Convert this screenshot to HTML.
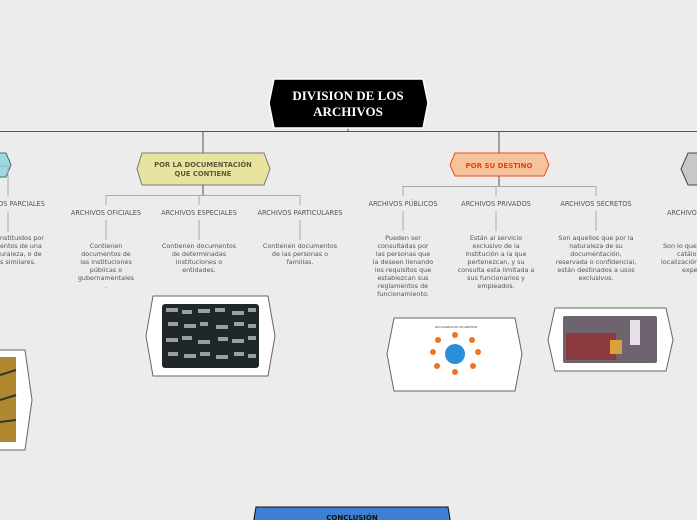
<!DOCTYPE html>
<html><head><meta charset="utf-8"><style>
html,body{margin:0;padding:0;background:#ececec;width:697px;height:520px;overflow:hidden}
svg{display:block}
text{font-family:"DejaVu Sans","Liberation Sans",sans-serif}
.lb{font-size:6.6px;fill:#555}
.tx{font-size:6.4px;fill:#555}
</style></head><body>
<svg width="697" height="520" viewBox="0 0 697 520" xmlns="http://www.w3.org/2000/svg">
<rect width="697" height="520" fill="#ececec"/>
<!-- main lines -->
<line x1="0" y1="131.5" x2="697" y2="131.5" stroke="#555" stroke-width="1"/>
<line x1="348" y1="128" x2="348" y2="132" stroke="#555"/>
<line x1="203" y1="131" x2="203" y2="153" stroke="#555"/>
<line x1="499" y1="131" x2="499" y2="153" stroke="#555"/>
<!-- root -->
<polygon points="274,79 423,79 428,103 423,128 274,128 269,103" fill="#000" stroke="#fff" stroke-width="1.5"/>
<text x="348" y="100" text-anchor="middle" font-family="Liberation Serif,serif" font-weight="bold" font-size="13" fill="#fff" style="font-family:'Liberation Serif',serif">DIVISION DE LOS</text>
<text x="348" y="116" text-anchor="middle" font-weight="bold" font-size="13" fill="#fff" style="font-family:'Liberation Serif',serif">ARCHIVOS</text>

<!-- left blue -->
<polygon points="-10,153 6,153 11,165 6,177 -10,177" fill="#9ed8e3" stroke="#4a6a78"/>
<polyline points="0,166 8,166 8,196" fill="none" stroke="#aaa"/>
<text x="-2" y="206" class="lb">OS PARCIALES</text>
<line x1="8" y1="212" x2="8" y2="232" stroke="#aaa"/>
<text class="tx" x="0" y="240">nstituidos por</text>
<text class="tx" x="0" y="248">entos de una</text>
<text class="tx" x="0" y="256">uraleza, o de</text>
<text class="tx" x="0" y="264">s similares.</text>

<!-- yellow branch -->
<polygon points="142,153 264,153 270,169 264,185 142,185 137,169" fill="#e8e4a0" stroke="#777"/>
<text x="203" y="167" text-anchor="middle" font-size="6.8" font-weight="bold" fill="#5a5a3a">POR LA DOCUMENTACIÓN</text>
<text x="203" y="176" text-anchor="middle" font-size="6.8" font-weight="bold" fill="#5a5a3a">QUE CONTIENE</text>
<line x1="203" y1="185" x2="203" y2="195" stroke="#555"/>
<polyline points="106,205 106,195.5 300,195.5 300,205" fill="none" stroke="#aaa"/>
<line x1="199" y1="195" x2="199" y2="205" stroke="#aaa"/>
<text x="106" y="215" text-anchor="middle" class="lb">ARCHIVOS OFICIALES</text>
<text x="199" y="215" text-anchor="middle" class="lb">ARCHIVOS ESPECIALES</text>
<text x="300" y="215" text-anchor="middle" class="lb">ARCHIVOS PARTICULARES</text>
<line x1="106" y1="220" x2="106" y2="240" stroke="#aaa"/>
<line x1="199" y1="220" x2="199" y2="240" stroke="#aaa"/>
<line x1="300" y1="220" x2="300" y2="240" stroke="#aaa"/>
<g class="tx" text-anchor="middle">
<text class="tx" x="106" y="248">Contienen</text>
<text class="tx" x="106" y="256">documentos de</text>
<text class="tx" x="106" y="264">las instituciones</text>
<text class="tx" x="106" y="272">públicas o</text>
<text class="tx" x="106" y="280">gubernamentales</text>
<text class="tx" x="106" y="288">.</text>
<text class="tx" x="199" y="248">Contienen documentos</text>
<text class="tx" x="199" y="256">de determinadas</text>
<text class="tx" x="199" y="264">instituciones o</text>
<text class="tx" x="199" y="272">entidades.</text>
<text class="tx" x="300" y="248">Contienen documentos</text>
<text class="tx" x="300" y="256">de las personas o</text>
<text class="tx" x="300" y="264">familias.</text>
</g>

<!-- orange branch -->
<polygon points="455,153 544,153 549,165 544,176 455,176 450,165" fill="#f7c39c" stroke="#f04e1e"/>
<text x="499" y="168" text-anchor="middle" font-size="7" font-weight="bold" fill="#e8400c">POR SU DESTINO</text>
<line x1="499" y1="176" x2="499" y2="186" stroke="#555"/>
<polyline points="403,196 403,186.5 596,186.5 596,196" fill="none" stroke="#aaa"/>
<line x1="496" y1="186" x2="496" y2="196" stroke="#aaa"/>
<text x="403" y="206" text-anchor="middle" class="lb">ARCHIVOS PÚBLICOS</text>
<text x="496" y="206" text-anchor="middle" class="lb">ARCHIVOS PRIVADOS</text>
<text x="596" y="206" text-anchor="middle" class="lb">ARCHIVOS SECRETOS</text>
<line x1="403" y1="211" x2="403" y2="231" stroke="#aaa"/>
<line x1="496" y1="211" x2="496" y2="231" stroke="#aaa"/>
<line x1="596" y1="211" x2="596" y2="231" stroke="#aaa"/>
<g text-anchor="middle">
<text class="tx" x="403" y="240">Pueden ser</text>
<text class="tx" x="403" y="248">consultadas por</text>
<text class="tx" x="403" y="256">las personas que</text>
<text class="tx" x="403" y="264">la deseen llenando</text>
<text class="tx" x="403" y="272">los requisitos que</text>
<text class="tx" x="403" y="280">establezcan sus</text>
<text class="tx" x="403" y="288">reglamentos de</text>
<text class="tx" x="403" y="296">funcionamiento.</text>
<text class="tx" x="496" y="240">Están al servicio</text>
<text class="tx" x="496" y="248">exclusivo de la</text>
<text class="tx" x="496" y="256">institución a la que</text>
<text class="tx" x="496" y="264">pertenezcan, y su</text>
<text class="tx" x="496" y="272">consulta esta limitada a</text>
<text class="tx" x="496" y="280">sus funcionarios y</text>
<text class="tx" x="496" y="288">empleados.</text>
<text class="tx" x="596" y="240">Son aquellos que por la</text>
<text class="tx" x="596" y="248">naturaleza de su</text>
<text class="tx" x="596" y="256">documentación,</text>
<text class="tx" x="596" y="264">reservada o confidencial,</text>
<text class="tx" x="596" y="272">están destinados a usos</text>
<text class="tx" x="596" y="280">exclusivos.</text>
</g>

<!-- right gray -->
<polygon points="688,153 710,153 710,185 688,185 681,169" fill="#c8c8c8" stroke="#444"/>
<text x="667" y="215" class="lb">ARCHIVO</text>
<text class="tx" x="663" y="248">Son lo que</text>
<text class="tx" x="677" y="256">catálo</text>
<text class="tx" x="661" y="264">localización</text>
<text class="tx" x="682" y="272">expe</text>

<!-- image boxes -->
<polygon points="153,296 268,296 275,336 268,376 153,376 146,336" fill="#fff" stroke="#666"/>
<rect x="162" y="304" width="97" height="64" rx="3" fill="#1f272b"/>
<g fill="#9aa0a2">
<rect x="166" y="308" width="12" height="4"/><rect x="182" y="310" width="10" height="4"/><rect x="198" y="309" width="12" height="4"/><rect x="215" y="308" width="10" height="4"/><rect x="232" y="311" width="12" height="4"/><rect x="248" y="308" width="8" height="4"/>
<rect x="168" y="322" width="10" height="4"/><rect x="184" y="324" width="12" height="4"/><rect x="200" y="322" width="8" height="4"/><rect x="216" y="325" width="12" height="4"/><rect x="234" y="322" width="10" height="4"/><rect x="248" y="324" width="8" height="4"/>
<rect x="166" y="338" width="12" height="4"/><rect x="182" y="336" width="10" height="4"/><rect x="198" y="340" width="12" height="4"/><rect x="218" y="337" width="10" height="4"/><rect x="232" y="339" width="12" height="4"/><rect x="248" y="336" width="8" height="4"/>
<rect x="168" y="352" width="10" height="4"/><rect x="184" y="354" width="12" height="4"/><rect x="200" y="352" width="10" height="4"/><rect x="216" y="355" width="12" height="4"/><rect x="234" y="352" width="10" height="4"/><rect x="248" y="354" width="8" height="4"/>
</g>

<polygon points="394,318 515,318 522,354 515,391 394,391 387,354" fill="#fff" stroke="#666"/>
<text x="456" y="328" text-anchor="middle" font-size="2.5" fill="#333">LOS USUARIOS DE LOS ARCHIVOS</text>
<circle cx="455" cy="354" r="10" fill="#2a8fd6"/>
<g fill="#f0731e">
<circle cx="455" cy="335" r="3"/><circle cx="438" cy="340" r="3"/><circle cx="472" cy="340" r="3"/><circle cx="433" cy="352" r="3"/><circle cx="478" cy="352" r="3"/><circle cx="437" cy="366" r="3"/><circle cx="473" cy="366" r="3"/><circle cx="455" cy="372" r="3"/>
</g>

<polygon points="555,308 666,308 673,340 666,371 555,371 548,340" fill="#fff" stroke="#666"/>
<rect x="563" y="316" width="94" height="47" rx="2" fill="#6e6470"/>
<rect x="566" y="333" width="50" height="27" fill="#8a3a3c"/>
<rect x="610" y="340" width="12" height="14" fill="#d9a040"/>
<rect x="630" y="320" width="10" height="25" fill="#e8e0e8"/>

<polygon points="-10,350 25,350 32,400 25,450 -10,450" fill="#fff" stroke="#666"/>
<rect x="0" y="357" width="16" height="85" fill="#b08830"/>
<line x1="0" y1="375" x2="16" y2="370" stroke="#333" stroke-width="2"/>
<line x1="0" y1="400" x2="16" y2="395" stroke="#333" stroke-width="2"/>
<line x1="0" y1="422" x2="16" y2="420" stroke="#333" stroke-width="2"/>

<!-- conclusion -->
<polygon points="256,507 448,507 451,525 253,525" fill="#3d80d3" stroke="#111"/>
<text x="352" y="520" text-anchor="middle" font-size="7" font-weight="bold" fill="#111">CONCLUSIÓN</text>
</svg>
</body></html>
